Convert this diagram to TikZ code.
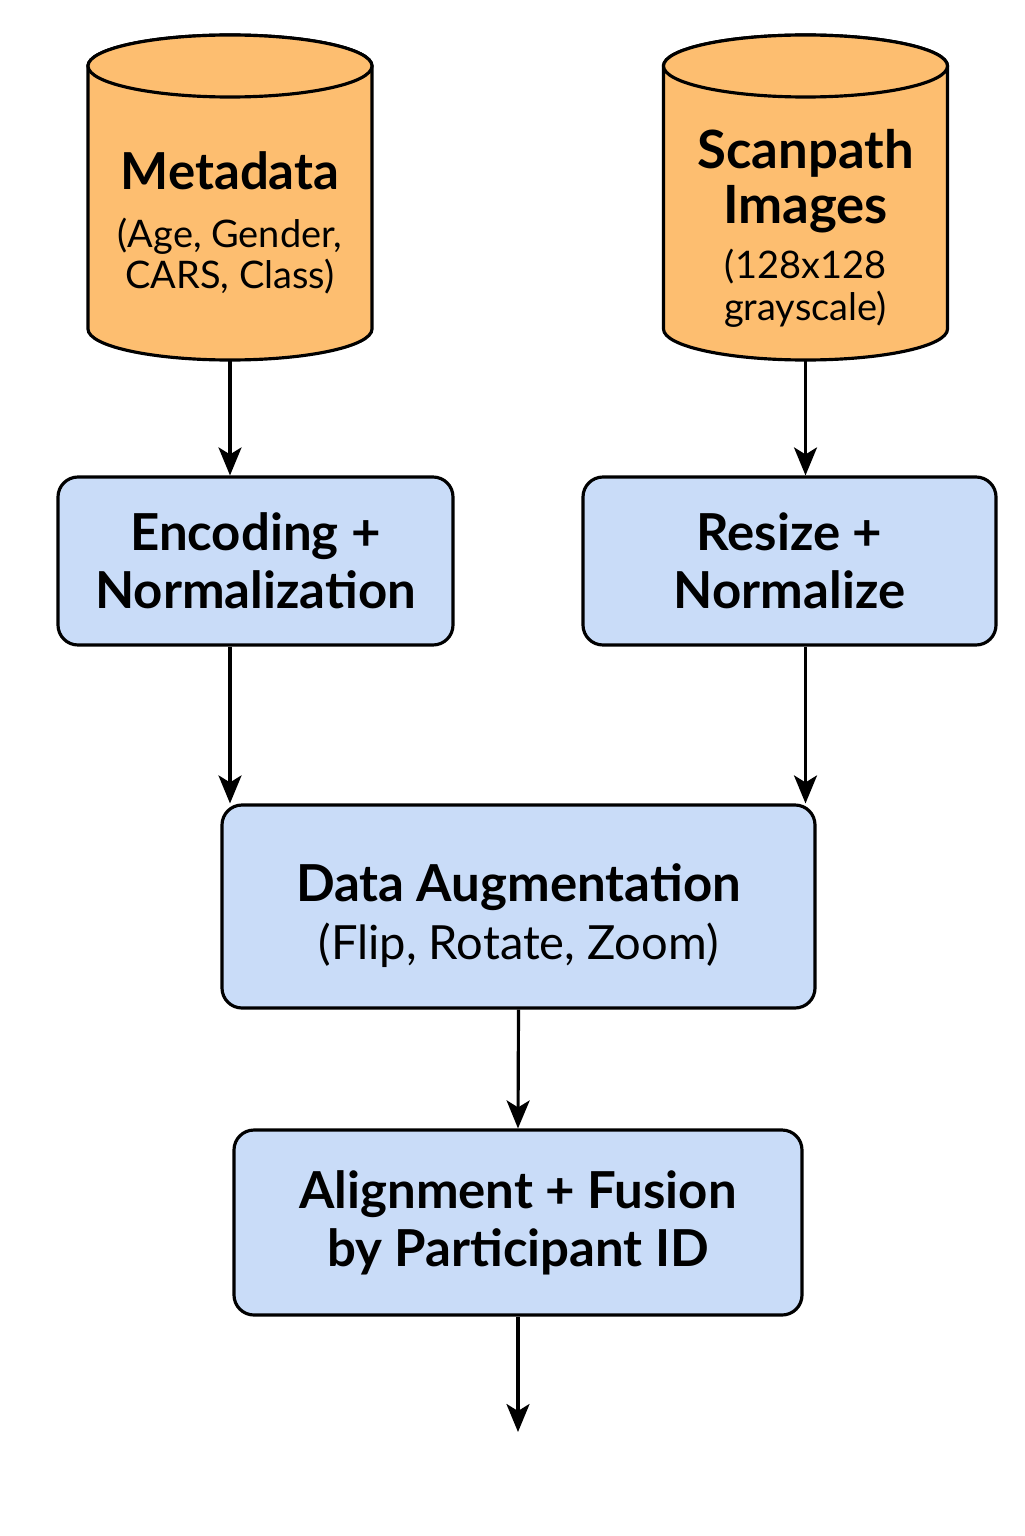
\documentclass[tikz,border=0pt]{standalone}
\usepackage{fontspec}
\setmainfont{Lato}
\usepackage{tikz}
\usetikzlibrary{arrows.meta,calc}
\definecolor{dbfill}{RGB}{253,190,112}
\definecolor{boxfill}{RGB}{201,220,248}
\newcommand{\subtxt}{\fontsize{10.8}{12}\selectfont\mdseries}
\newcommand{\titletxt}{\fontsize{14.5}{16.5}\selectfont\bfseries}
\tikzset{
  dbline/.style={draw,line width=0.9pt,fill=dbfill},
  dbtext/.style={inner sep=0pt,align=center,font=\titletxt},
  stepbox/.style={draw,line width=0.9pt,rounded corners=0.2cm,fill=boxfill,inner sep=0pt,align=center,
    font=\titletxt},
  flow/.style={-{Stealth[length=2.8mm,width=2.3mm,inset=0.7mm]},line width=0.9pt}
}
\begin{document}
\begin{tikzpicture}
  \useasboundingbox (0,0) rectangle (10.24,-15.36);
  % sources (cylinders)
  \foreach \cx/\cn in {2.30/meta,8.055/scan}{
    \path[dbline] (\cx-1.42,-0.66) -- (\cx-1.42,-3.29)
      arc[start angle=180,end angle=360,x radius=1.42,y radius=0.31]
      -- (\cx+1.42,-0.66) arc[start angle=0,end angle=180,x radius=1.42,y radius=0.31] -- cycle;
    \path[dbline] (\cx,-0.66) ellipse[x radius=1.42,y radius=0.31];
    \coordinate (\cn bot) at (\cx,-3.60);
  }
  \node[dbtext](meta)at(2.30,-2.23){Metadata\\{\subtxt (Age, Gender,}\\[-5pt]{\subtxt CARS, Class)}};
  \node[dbtext](scan)at(8.055,-2.285){{\fontsize{15}{16.5}\selectfont Scanpath}\\[-0.9pt]{\fontsize{15}{16.5}\selectfont Images}\\[-0.9pt]{\subtxt (128x128}\\[-4.6pt]{\subtxt grayscale)}};
  % preprocessing
  \node[stepbox,minimum width=3.95cm,minimum height=1.68cm](enc)at(2.555,-5.61){Encoding +\\Normalization};
  \node[stepbox,minimum width=4.13cm,minimum height=1.68cm](res)at(7.895,-5.61){Resize +\\Normalize};
  \node[stepbox,minimum width=5.93cm,minimum height=2.03cm](aug)at(5.185,-9.065){\rule{0pt}{16pt}Data Augmentation\\{\fontsize{13.4}{15}\selectfont\mdseries (Flip, Rotate, Zoom)}};
  \node[stepbox,minimum width=5.68cm,minimum height=1.85cm](fus)at(5.18,-12.225){Alignment + Fusion\\by Participant ID};
  \coordinate(out)at(5.18,-14.32);
  % arrows
  \draw[flow](metabot)--(metabot |- enc.north);
  \draw[flow](scanbot)--(scanbot |- res.north);
  \draw[flow](metabot |- enc.south)--(metabot |- aug.north);
  \draw[flow](scanbot |- res.south)--(scanbot |- aug.north);
  \draw[flow](aug.south)--(fus.north);
  \draw[flow](fus.south)--(out);
\end{tikzpicture}
\end{document}
